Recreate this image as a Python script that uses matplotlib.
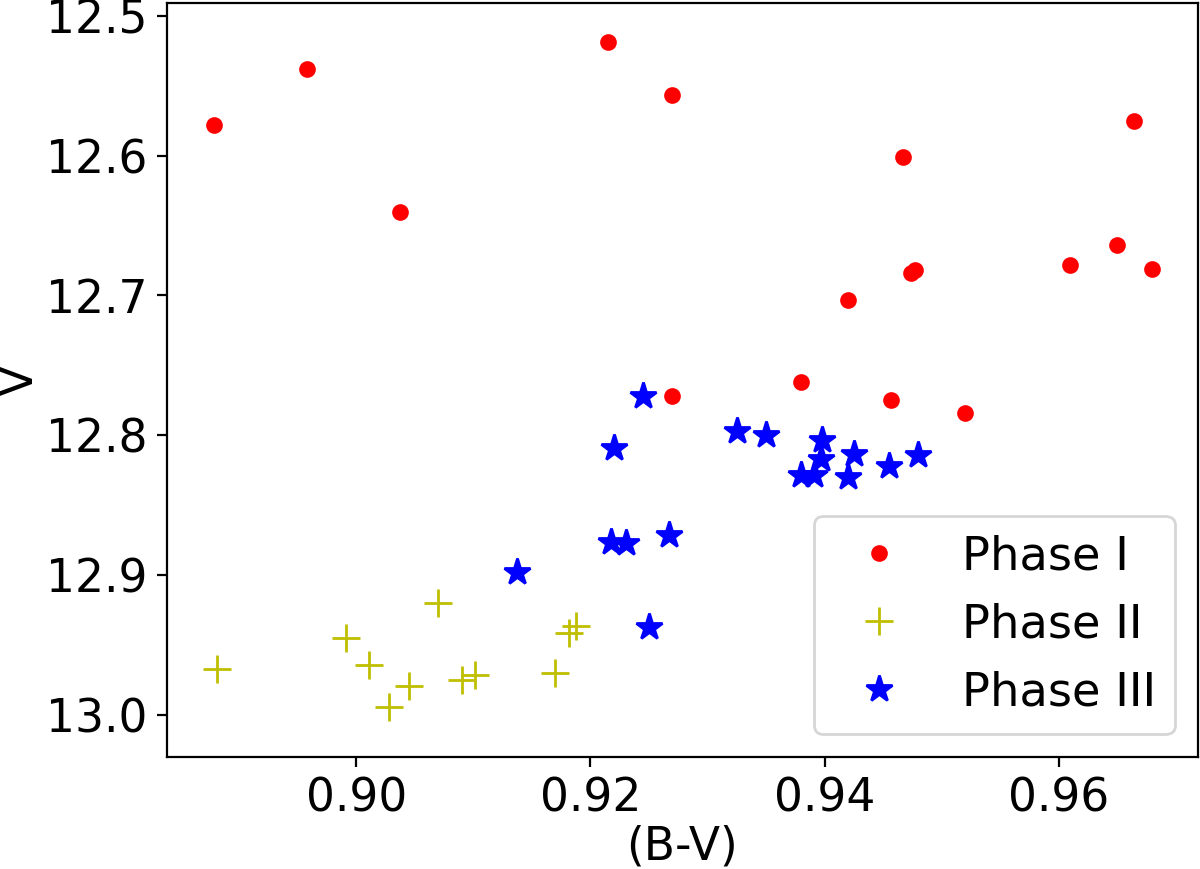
import matplotlib
matplotlib.use("Agg")
import matplotlib.pyplot as plt

# Phase I (red dots)
bv_1 = [0.8878, 0.8958, 0.9037, 0.9215, 0.9270, 0.9270, 0.9380, 0.9420, 0.9467,
        0.9457, 0.9474, 0.9477, 0.9520, 0.9610, 0.9650, 0.9664, 0.9680]
v_1 = [12.578, 12.538, 12.640, 12.519, 12.557, 12.772, 12.762, 12.703, 12.601,
       12.775, 12.684, 12.682, 12.784, 12.678, 12.664, 12.575, 12.681]

# Phase II (yellow crosses)
bv_2 = [0.8881, 0.8991, 0.9011, 0.9028, 0.9045, 0.9070, 0.9090, 0.9101,
        0.9170, 0.9182, 0.9188]
v_2 = [12.967, 12.945, 12.964, 12.994, 12.979, 12.920, 12.975, 12.971,
       12.970, 12.941, 12.936]

# Phase III (blue stars)
bv_3 = [0.9137, 0.9245, 0.9325, 0.9350, 0.9220, 0.9398, 0.9397, 0.9425, 0.9480,
        0.9455, 0.9380, 0.9391, 0.9420, 0.9218, 0.9230, 0.9267, 0.9250]
v_3 = [12.898, 12.772, 12.797, 12.800, 12.809, 12.803, 12.817, 12.813, 12.814,
       12.822, 12.828, 12.828, 12.830, 12.876, 12.877, 12.871, 12.937]

plt.rcParams['font.size'] = 16.4

fig = plt.figure(figsize=(6, 4.345), dpi=200)
ax = fig.add_axes([0.1389, 0.1285, 0.8594, 0.8684])

ax.plot(bv_1, v_1, 'ro', ms=5, label='Phase I')
ax.plot(bv_2, v_2, 'y+', ms=10, label='Phase II')
ax.plot(bv_3, v_3, 'b*', ms=10, label='Phase III')

ax.set_xlim(0.8838, 0.9719)
ax.set_ylim(13.0302, 12.4907)
ax.set_xticks([0.90, 0.92, 0.94, 0.96])
ax.set_yticks([12.5, 12.6, 12.7, 12.8, 12.9, 13.0])

ax.set_xlabel('(B-V)', labelpad=1)
ax.set_ylabel('V', labelpad=1)
ax.legend(loc='lower right', fontsize=16.7)

fig.savefig('out.png', dpi=200)
